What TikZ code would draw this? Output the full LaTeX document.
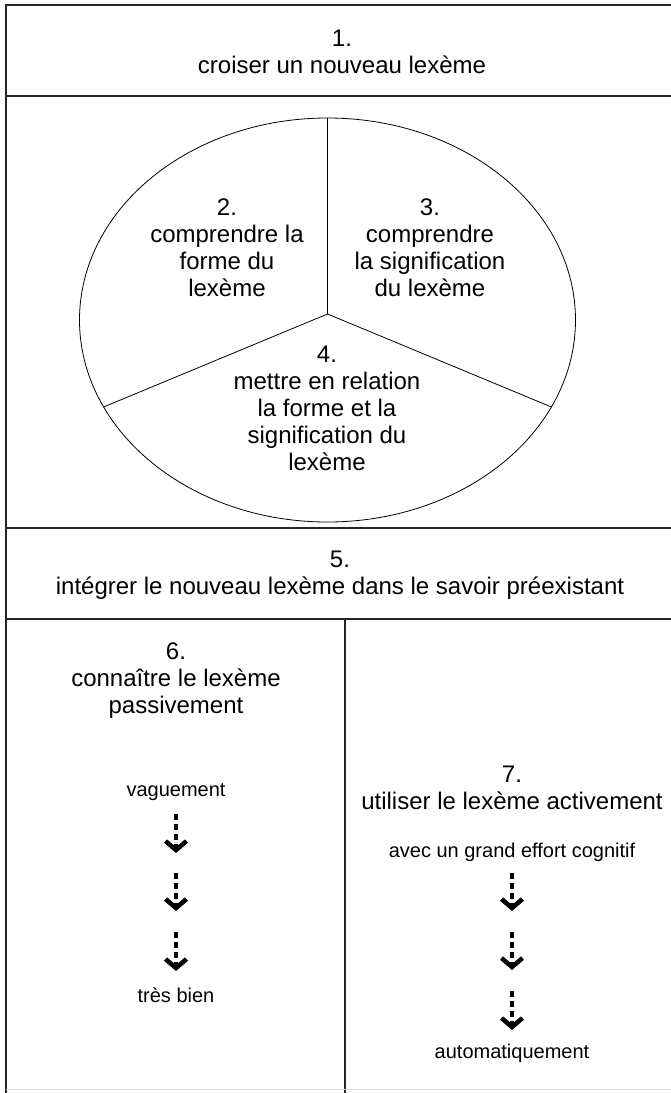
\documentclass[tikz,border=0pt]{standalone}
\usepackage{fontspec}
\setmainfont{Liberation Sans}
\usetikzlibrary{arrows.meta,positioning,calc}
\tikzset{
  frame/.style={line width=1.6pt,draw=black!85},
  pie/.style={line width=0.8pt},
  bigtxt/.style={align=center,inner sep=0pt,font=\fontsize{24}{27}\selectfont},
  smalltxt/.style={align=center,inner sep=0pt,font=\fontsize{20}{24}\selectfont},
  stepdash/.style={line width=4pt,dash pattern=on 6pt off 4pt,-{Straight Barb[length=9pt,width=21pt,line width=4.5pt]}}
}
\begin{document}
\begin{tikzpicture}[x=1pt,y=-1pt]
\useasboundingbox (0,0) rectangle (671,1093);
%frame and rows
\draw[frame] (680,5) -- (6,5) -- (6,1093);
\draw[frame] (6,96) -- (680,96);
\draw[frame] (6,528) -- (680,528);
\draw[frame] (6,619) -- (680,619);
\draw[frame] (345,619) -- (345,1093);
\draw[black!15,line width=0.6pt] (6,1089) -- (680,1089);
%row 1
\node[bigtxt] (s1) at (342,52) {1.\\croiser un nouveau lexème};
%ellipse cut in three (y grows downwards here)
\coordinate (ctr) at (327.5,320);
\coordinate (mid) at (327.5,314);
\draw[pie] (ctr) ellipse (248 and 202);
\coordinate (top) at ($(ctr)+(-90:248 and 202)$);
\coordinate (lft) at ($(ctr)+(154.5:248 and 202)$);
\coordinate (rgt) at ($(ctr)+(25.5:248 and 202)$);
\draw[pie] (mid) -- (top); \draw[pie] (mid) -- (lft); \draw[pie] (mid) -- (rgt);
\node[bigtxt] (s2) at (227,248) {2.\\comprendre la\\forme du\\lexème};
\node[bigtxt] (s3) at (430,248) {3.\\comprendre\\la signification\\du lexème};
\node[bigtxt] (s4) at (327,408) {4.\\mettre en relation\\la forme et la\\signification du\\lexème};
%row 5
\node[bigtxt] (s5) at (340,575) {5.\\intégrer le nouveau lexème dans le savoir préexistant};
%left column: passive
\node[bigtxt] (s6) at (176,681) {6.\\connaître le lexème\\passivement};
\node[smalltxt] (vag) at (176,792) {vaguement};
\node[smalltxt] (tbien) at (176,995) {très bien};
\coordinate (p1a) at (176,814); \coordinate (p1b) at (176,853);
\coordinate (p2a) at (176,873); \coordinate (p2b) at (176,911);
\coordinate (p3a) at (176,932); \coordinate (p3b) at (176,971);
\draw[stepdash] (p1a) -- (p1b); \draw[stepdash] (p2a) -- (p2b); \draw[stepdash] (p3a) -- (p3b);
%right column: active
\node[bigtxt] (s7) at (512,788) {7.\\utiliser le lexème activement};
\node[smalltxt] (effort) at (512,852) {avec un grand effort cognitif};
\node[smalltxt] (auto) at (512,1053) {automatiquement};
\coordinate (a1a) at (512,873); \coordinate (a1b) at (512,911);
\coordinate (a2a) at (512,932); \coordinate (a2b) at (512,970);
\coordinate (a3a) at (512,991); \coordinate (a3b) at (512,1030);
\draw[stepdash] (a1a) -- (a1b); \draw[stepdash] (a2a) -- (a2b); \draw[stepdash] (a3a) -- (a3b);
\end{tikzpicture}
\end{document}
